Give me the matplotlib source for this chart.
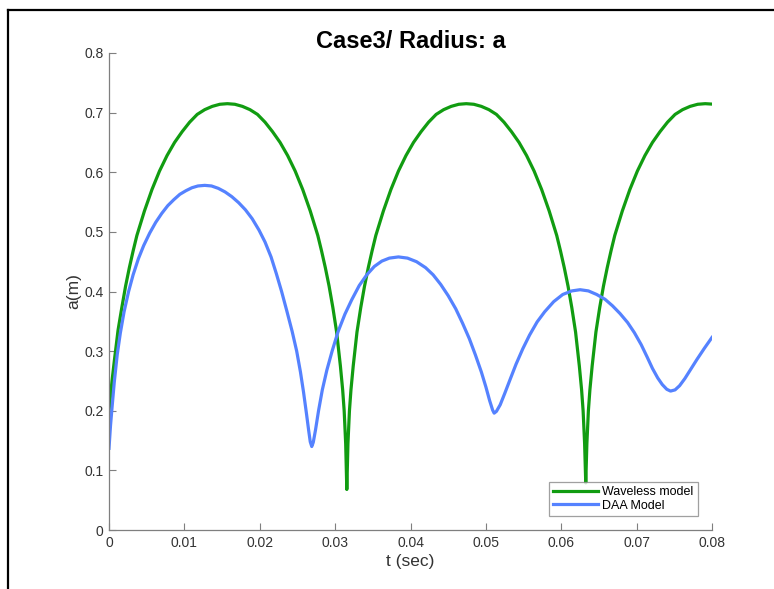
import matplotlib
matplotlib.use("Agg")
import matplotlib.pyplot as plt
from matplotlib.lines import Line2D

plt.rcParams['font.family'] = ['Liberation Sans', 'DejaVu Sans']

title = "Case3/ Radius: a"
xlabel = "t (sec)"
ylabel = "a(m)"
series_names = ["Waveless model", "DAA Model"]

x_ticks = [0, 0.01, 0.02, 0.03, 0.04, 0.05, 0.06, 0.07, 0.08]
x_tick_labels = ["0", "0.01", "0.02", "0.03", "0.04", "0.05", "0.06", "0.07", "0.08"]
y_ticks = [0, 0.1, 0.2, 0.3, 0.4, 0.5, 0.6, 0.7, 0.8]
y_tick_labels = ["0", "0.1", "0.2", "0.3", "0.4", "0.5", "0.6", "0.7", "0.8"]

waveless_t = [
    0.0000, 0.0004, 0.0007, 0.0012, 0.0017, 0.0022, 0.0027, 0.0032, 0.0037, 0.0047,
    0.0057, 0.0067, 0.0077, 0.0087, 0.0097, 0.0107, 0.0117, 0.0127, 0.0137, 0.0147,
    0.0157, 0.0167, 0.0177, 0.0187, 0.0197, 0.0207, 0.0217, 0.0227, 0.0237, 0.0247,
    0.0257, 0.0267, 0.0277, 0.0282, 0.0287, 0.0292, 0.0297, 0.0302, 0.0307, 0.0310,
    0.0312, 0.0314, 0.03155,
    0.0317, 0.0319, 0.0321, 0.0324, 0.0329, 0.0334, 0.0339, 0.0344, 0.0349, 0.0354,
    0.0364, 0.0374, 0.0384, 0.0394, 0.0404, 0.0414, 0.0424, 0.0434, 0.0444, 0.0454,
    0.0464, 0.0474, 0.0484, 0.0494, 0.0504, 0.0514, 0.0524, 0.0534, 0.0544, 0.0554,
    0.0564, 0.0574, 0.0584, 0.0594, 0.0599, 0.0604, 0.0609, 0.0614, 0.0619, 0.0624,
    0.0627, 0.0629, 0.0631, 0.06325,
    0.0634, 0.0636, 0.0638, 0.0641, 0.0646, 0.0651, 0.0656, 0.0661, 0.0666, 0.0671,
    0.0681, 0.0691, 0.0701, 0.0711, 0.0721, 0.0731, 0.0741, 0.0751, 0.0761, 0.0771,
    0.0781, 0.0791, 0.0800,
]
waveless_a = [
    0.200, 0.250, 0.283, 0.335, 0.373, 0.409, 0.440, 0.468, 0.494, 0.535,
    0.571, 0.602, 0.628, 0.650, 0.668, 0.684, 0.697, 0.705, 0.7105, 0.714,
    0.715, 0.714, 0.7105, 0.705, 0.697, 0.684, 0.668, 0.650, 0.628, 0.602,
    0.571, 0.535, 0.494, 0.468, 0.440, 0.409, 0.373, 0.332, 0.275, 0.235,
    0.200, 0.145, 0.068,
    0.145, 0.200, 0.235, 0.275, 0.332, 0.373, 0.409, 0.440, 0.468, 0.494,
    0.535, 0.571, 0.602, 0.628, 0.650, 0.668, 0.684, 0.697, 0.705, 0.7105,
    0.714, 0.715, 0.714, 0.7105, 0.705, 0.697, 0.684, 0.668, 0.650, 0.628,
    0.602, 0.571, 0.535, 0.494, 0.468, 0.440, 0.409, 0.373, 0.332, 0.275,
    0.235, 0.200, 0.145, 0.079,
    0.145, 0.200, 0.235, 0.275, 0.332, 0.373, 0.409, 0.440, 0.468, 0.494,
    0.535, 0.571, 0.602, 0.628, 0.650, 0.668, 0.684, 0.697, 0.705, 0.7105,
    0.714, 0.715, 0.7143,
]

daa_t = [
    0.0000, 0.0002, 0.0004, 0.0007, 0.0011, 0.0015, 0.0020, 0.0026, 0.0032, 0.0039,
    0.0046, 0.0054, 0.0062, 0.0070, 0.0078, 0.0086, 0.0094, 0.0102, 0.0110, 0.0118,
    0.0127, 0.0136, 0.0145, 0.0154, 0.0163, 0.0172, 0.0181, 0.0190, 0.0199, 0.0207,
    0.0215, 0.0222, 0.0229, 0.0236, 0.0243, 0.0249, 0.0254, 0.0258, 0.0262, 0.0265,
    0.0267, 0.0269, 0.0271, 0.0274, 0.0278, 0.0283, 0.0289, 0.0296, 0.0304, 0.0313,
    0.0322, 0.0332, 0.0342, 0.0352, 0.0362, 0.0372, 0.0384, 0.0396, 0.0408, 0.0420,
    0.0430, 0.0440, 0.0450, 0.0460, 0.0469, 0.0478, 0.0486, 0.0494, 0.0500, 0.0505,
    0.0509, 0.0511, 0.0514, 0.0519, 0.0525, 0.0532, 0.0540, 0.0549, 0.0558, 0.0568,
    0.0578, 0.0590, 0.0602, 0.0614, 0.0625, 0.0636, 0.0647, 0.0658, 0.0668, 0.0678,
    0.0688, 0.0697, 0.0706, 0.0714, 0.0721, 0.0728, 0.0734, 0.0740, 0.0745, 0.0751,
    0.0757, 0.0764, 0.0772, 0.0780, 0.0790, 0.0800,
]
daa_a = [
    0.137, 0.175, 0.205, 0.248, 0.295, 0.330, 0.366, 0.400, 0.428, 0.455,
    0.477, 0.498, 0.516, 0.531, 0.544, 0.554, 0.563, 0.569, 0.574, 0.577,
    0.578, 0.577, 0.573, 0.567, 0.559, 0.549, 0.537, 0.522, 0.503, 0.483,
    0.458, 0.430, 0.400, 0.367, 0.333, 0.300, 0.265, 0.232, 0.195, 0.166,
    0.148, 0.140, 0.147, 0.168, 0.200, 0.235, 0.268, 0.300, 0.333, 0.362,
    0.386, 0.410, 0.428, 0.442, 0.451, 0.456, 0.458, 0.456, 0.450, 0.440,
    0.428, 0.412, 0.393, 0.371, 0.347, 0.321, 0.294, 0.265, 0.240, 0.217,
    0.201, 0.196, 0.199, 0.210, 0.229, 0.252, 0.278, 0.304, 0.327, 0.349,
    0.366, 0.383, 0.395, 0.401, 0.403, 0.401, 0.395, 0.387, 0.376, 0.363,
    0.348, 0.331, 0.311, 0.290, 0.271, 0.255, 0.244, 0.236, 0.233, 0.235,
    0.242, 0.254, 0.270, 0.286, 0.305, 0.323,
]

W, H = 774, 589
fig = plt.figure(figsize=(W / 100, H / 100), dpi=100)
ax = fig.add_axes([109 / W, 1 - 530 / H, (712 - 109) / W, (530 - 53) / H])

green = '#119c11'
blue = '#5582ff'
ax.plot(waveless_t, waveless_a, color=green, lw=2.3, label=series_names[0], solid_joinstyle='round')
ax.plot(daa_t, daa_a, color=blue, lw=2.3, label=series_names[1], solid_joinstyle='round')

ax.set_xlim(0, 0.08)
ax.set_ylim(0, 0.8)
ax.set_xticks(x_ticks)
ax.set_xticklabels(x_tick_labels)
ax.set_yticks(y_ticks)
ax.set_yticklabels(y_tick_labels)

spine_col = '#7f7f7f'
for s in ['top', 'right']:
    ax.spines[s].set_visible(False)
for s in ['left', 'bottom']:
    ax.spines[s].set_color(spine_col)
    ax.spines[s].set_linewidth(0.9)
ax.tick_params(direction='in', length=5, width=0.8, color=spine_col,
               labelcolor='#333333', labelsize=10, pad=4)

ax.set_title(title, fontsize=17, fontweight='bold', pad=3)
ax.set_xlabel(xlabel, fontsize=12.5, color='#333333', labelpad=3)
ax.set_ylabel(ylabel, fontsize=12.5, color='#333333', labelpad=2)

leg = ax.legend(loc='lower right', bbox_to_anchor=((698 - 109) / (712 - 109), (530 - 516) / (530 - 53)),
                fontsize=9, frameon=True, fancybox=False, shadow=False,
                borderpad=0.35, handlelength=3.6, handletextpad=0.35, labelspacing=0.1,
                borderaxespad=0)
leg.get_frame().set_edgecolor('#888888')
leg.get_frame().set_linewidth(0.9)

# figure frame lines (top and left)
fig.add_artist(Line2D([8 / W, 1.0], [1 - 10 / H, 1 - 10 / H], color='black', lw=1.6,
                      transform=fig.transFigure))
fig.add_artist(Line2D([8 / W, 8 / W], [0, 1 - 10 / H], color='black', lw=1.6,
                      transform=fig.transFigure))

fig.savefig('out.png', dpi=100)
